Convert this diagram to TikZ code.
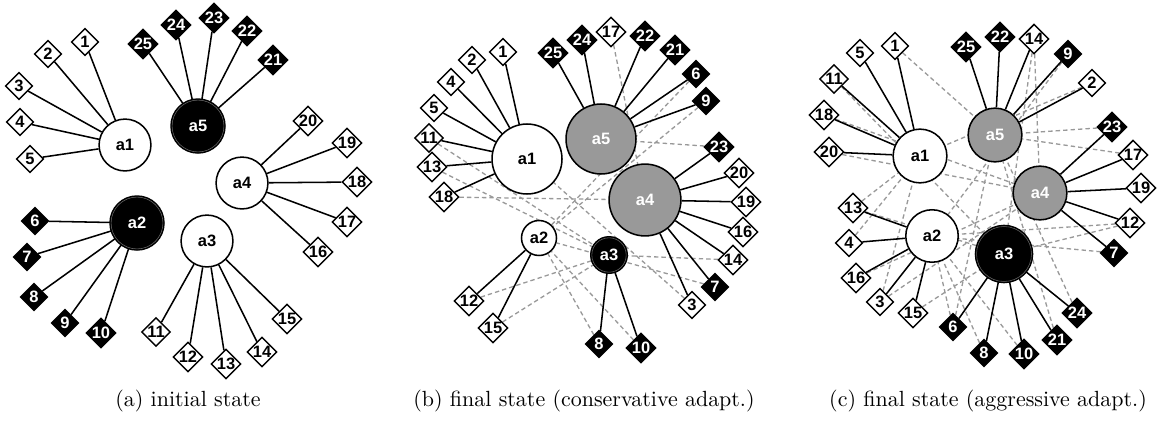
\documentclass[tikz,border=0pt]{standalone}
\usepackage{fontspec}
\newfontfamily\agentfont{Liberation Sans}
\usetikzlibrary{shapes.geometric}

\pgfdeclarelayer{oldlinks}
\pgfdeclarelayer{links}
\pgfsetlayers{oldlinks,links,main}

\tikzset{
  agent/.style={draw, circle, line width=0.7pt, inner sep=0pt,
    font=\agentfont\bfseries\fontsize{7.5}{8}\selectfont},
  wagent/.style={agent, fill=white},
  bagent/.style={agent, fill=black, text=white, double=black!60, double distance=0.25pt},
  gagent/.style={agent, fill=black!40, text=white},
  wcomp/.style={draw, diamond, line width=0.65pt, fill=white, inner sep=0pt,
    minimum size=0.44cm, font=\agentfont\bfseries\fontsize{7.5}{8}\selectfont},
  bcomp/.style={wcomp, fill=black, text=white},
  link/.style={line width=0.7pt},
  oldlink/.style={black!40, line width=0.6pt, dash pattern=on 2pt off 1.4pt},
}

\begin{document}
\begin{tikzpicture}[x=0.016cm, y=-0.016cm]
    \useasboundingbox (0,0) rectangle (1167,420);

    % (a) initial state
    \node [wagent, minimum size=0.83cm] (ia1) at (125,145) {a1};
    \node [bagent, minimum size=0.83cm] (ia2) at (137,223) {a2};
    \node [wagent, minimum size=0.83cm] (ia3) at (207,241) {a3};
    \node [wagent, minimum size=0.83cm] (ia4) at (242,183) {a4};
    \node [bagent, minimum size=0.83cm] (ia5) at (198,126) {a5};
    \foreach \n/\x/\y/\s in {1/85/42/wcomp, 2/48/54/wcomp, 3/19/86/wcomp,
        4/20/122/wcomp, 5/30/159/wcomp, 6/35/221/bcomp, 7/27/257/bcomp,
        8/34/297/bcomp, 9/65/323/bcomp, 10/101/333/bcomp, 11/156/332/wcomp,
        12/188/357/wcomp, 13/226/364/wcomp, 14/262/352/wcomp, 15/287/319/wcomp,
        16/318/252/wcomp, 17/347/222/wcomp, 18/357/182/wcomp, 19/347/143/wcomp,
        20/308/121/wcomp, 21/273/60/bcomp, 22/247/31/bcomp, 23/214/18/bcomp,
        24/176/25/bcomp, 25/143/44/bcomp} {
      \node [\s] (i\n) at (\x,\y) {\n};
    }
    \begin{pgfonlayer}{links}
      \foreach \n in {1, ..., 25} {
        \pgfmathtruncatemacro\h{int((\n-1)/5)+1}
        \draw [link] (i\n) -- (ia\h);
      }
    \end{pgfonlayer}
    \node (capa) at (188,401) {(a) initial state};

    % (b) final state, conservative
    \node [wagent, minimum size=1.12cm] (ca1) at (527,159) {a1};
    \node [wagent, minimum size=0.56cm] (ca2) at (539,238) {a2};
    \node [bagent, minimum size=0.55cm] (ca3) at (609,255) {a3};
    \node [gagent, minimum size=1.15cm] (ca4) at (645,200) {a4};
    \node [gagent, minimum size=1.12cm] (ca5) at (601,139) {a5};
    \foreach \n/\x/\y/\s in {1/503/52/wcomp, 2/472/60/wcomp, 3/692/305/wcomp,
        4/451/82/wcomp, 5/434/108/wcomp, 6/696/74/bcomp, 7/715/287/bcomp,
        8/599/344/bcomp, 9/706/101/bcomp, 10/641/348/bcomp, 11/429/138/wcomp,
        12/469/301/wcomp, 13/432/167/wcomp, 14/733/260/wcomp, 15/493/328/wcomp,
        16/743/232/wcomp, 17/611/32/wcomp, 18/444/197/wcomp, 19/746/202/wcomp,
        20/739/173/wcomp, 21/675/50/bcomp, 22/645/36/bcomp, 23/719/147/bcomp,
        24/582/40/bcomp, 25/553/53/bcomp} {
      \node [\s] (c\n) at (\x,\y) {\n};
    }
    \begin{pgfonlayer}{links}
      \foreach \n/\h in {1/1, 2/1, 3/4, 4/1, 5/1, 6/5, 7/4, 8/3, 9/5, 10/3,
          11/1, 12/2, 13/1, 14/4, 15/2, 16/4, 18/1, 19/4, 20/4, 21/5, 22/5,
          23/4, 24/5, 25/5} {
        \draw [link] (c\n) -- (ca\h);
      }
    \end{pgfonlayer}
    \begin{pgfonlayer}{oldlinks}
      \foreach \n/\h in {3/1, 6/2, 7/2, 8/2, 9/2, 10/2, 11/3, 12/3, 13/3,
          14/3, 15/3, 17/4, 18/4, 23/5} {
        \draw [oldlink] (c\n) -- (ca\h);
      }
    \end{pgfonlayer}
    \node (capb) at (584,401) {(b) final state (conservative adapt.)};

    % (c) final state, aggressive
    \node [wagent, minimum size=0.86cm] (ga1) at (920,156) {a1};
    \node [wagent, minimum size=0.84cm] (ga2) at (932,236) {a2};
    \node [bagent, minimum size=0.88cm] (ga3) at (1004,254) {a3};
    \node [gagent, minimum size=0.86cm] (ga4) at (1040,193) {a4};
    \node [gagent, minimum size=0.86cm] (ga5) at (995,135) {a5};
    \foreach \n/\x/\y/\s in {1/895/46/wcomp, 2/1092/83/wcomp, 3/880/302/wcomp,
        4/849/243/wcomp, 5/860/53/wcomp, 6/953/327/bcomp, 7/1114/253/bcomp,
        8/984/353/bcomp, 9/1068/54/bcomp, 10/1024/354/bcomp, 11/834/79/wcomp,
        12/1130/223/wcomp, 13/853/208/wcomp, 14/1034/39/wcomp, 15/913/313/wcomp,
        16/856/278/wcomp, 17/1133/155/wcomp, 18/824/115/wcomp, 19/1141/188/wcomp,
        20/829/152/wcomp, 21/1057/340/bcomp, 22/1000/37/bcomp, 23/1112/127/bcomp,
        24/1077/313/bcomp, 25/966/47/bcomp} {
      \node [\s] (g\n) at (\x,\y) {\n};
    }
    \begin{pgfonlayer}{links}
      \foreach \n/\h in {1/1, 2/5, 3/2, 4/2, 5/1, 6/3, 7/4, 8/3, 9/5, 10/3,
          11/1, 12/4, 13/2, 14/5, 15/2, 16/2, 17/4, 18/1, 19/4, 20/1, 21/3,
          22/5, 23/4, 24/3, 25/5} {
        \draw [link] (g\n) -- (ga\h);
      }
    \end{pgfonlayer}
    \begin{pgfonlayer}{oldlinks}
      \foreach \n/\h in {1/5, 2/1, 3/1, 3/4, 4/1, 6/2, 6/5, 7/2, 8/2, 9/2,
          10/2, 11/3, 12/3, 12/2, 13/3, 13/1, 14/3, 14/4, 15/3, 16/4, 17/5,
          18/4, 20/4, 21/5, 23/5, 24/5} {
        \draw [oldlink] (g\n) -- (ga\h);
      }
    \end{pgfonlayer}
    \node (capc) at (988,401) {(c) final state (aggressive adapt.)};
\end{tikzpicture}
\end{document}
